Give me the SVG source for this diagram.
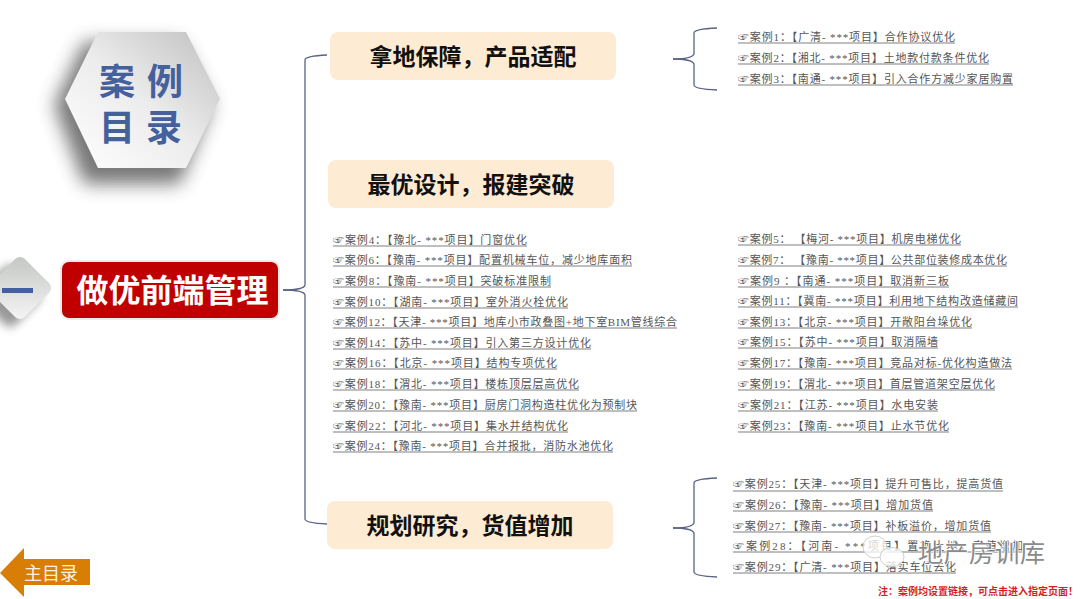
<svg xmlns="http://www.w3.org/2000/svg" width="1080" height="599" viewBox="0 0 1080 599">
<style>
.t{font-family:"Liberation Serif","Noto Sans CJK SC",serif;font-size:11px;fill:#555}
.u{stroke:#808080;stroke-width:1.2}
.c{fill:none;stroke:#5a6584;stroke-width:1.3}
.h{font-family:"Noto Sans CJK SC",sans-serif;font-weight:700;font-size:23px;fill:#111;text-anchor:middle}
.b{fill:#fdebd3}
.s{font-family:"Noto Sans CJK SC",sans-serif;font-weight:700;font-size:36px;fill:#44619d;text-anchor:middle}
</style>
<defs>
<linearGradient id="hx" x1="0.1" y1="0.9" x2="0.9" y2="0.1"><stop offset="0" stop-color="#fbfbfb"/><stop offset="0.5" stop-color="#ececec"/><stop offset="1" stop-color="#c8c8c8"/></linearGradient>
<linearGradient id="dm" x1="0" y1="0" x2="1" y2="1"><stop offset="0" stop-color="#c2c5c2"/><stop offset="1" stop-color="#f6f6f6"/></linearGradient>
<filter id="sh" x="-40%" y="-40%" width="180%" height="180%"><feGaussianBlur stdDeviation="9"/></filter>
<filter id="sh2" x="-40%" y="-40%" width="180%" height="180%"><feGaussianBlur stdDeviation="5"/></filter>
</defs>
<rect width="1080" height="599" fill="#fff"/>
<g id="hexagon">
<polygon points="54,105 84,42 180,42 212,105 180,184 84,184" fill="#444" opacity="0.72" filter="url(#sh)"/>
<polygon points="65,99 98,32 186,32 220,99 186,168 98,168" fill="url(#hx)"/>
<text class="s" x="117" y="95">案</text>
<text class="s" x="165" y="95">例</text>
<text class="s" x="117" y="141">目</text>
<text class="s" x="164" y="141">录</text>
</g>
<g id="diamond">
<rect x="-14" y="272" width="48" height="48" rx="7" fill="#555" opacity="0.6" filter="url(#sh2)" transform="rotate(45 10 296)"/>
<rect x="-4" y="264" width="48" height="48" rx="7" fill="url(#dm)" transform="rotate(45 20 288)"/>
<rect x="2" y="288" width="31" height="5" fill="#44619d"/>
</g>
<g id="root">
<rect x="61" y="261" width="218" height="58" rx="8" fill="#c00000" stroke="#ececec" stroke-width="2"/>
<text x="172.500" y="302" font-family="Noto Sans CJK SC,sans-serif" font-weight="700" font-size="32" fill="#fff" text-anchor="middle">做优前端管理</text>
</g>
<g id="connectors">
<path class="c" d="M283,290 Q304,290 305,285 V60 Q305,56 327,55"/>
<path class="c" d="M283,290 Q304,290 305,295 V519 Q305,523 327,524"/>
<path class="c" d="M673,59 Q692,59 694,54 V33 Q694,29 717,28"/>
<path class="c" d="M673,59 Q692,59 694,64 V85 Q694,89 717,90"/>
<path class="c" d="M673,528 Q692,528 694,523 V483 Q694,479 717,478"/>
<path class="c" d="M673,528 Q692,528 694,533 V572 Q694,576 717,577"/>
</g>
<g id="n1"><rect class="b" x="330" y="32" width="286" height="48" rx="8"/><text class="h" x="473" y="65">拿地保障&#xFF0C;产品适配</text></g>
<g id="n2"><rect class="b" x="328" y="160" width="286" height="48" rx="8"/><text class="h" x="471" y="193">最优设计&#xFF0C;报建突破</text></g>
<g id="n3"><rect class="b" x="327" y="501" width="286" height="48" rx="8"/><text class="h" x="470" y="534">规划研究&#xFF0C;货值增加</text></g>
<g id="cases-top">
<text class="t" x="738" y="41" textLength="217">☞案例1&#xFF1A;【广清- ***项目】合作协议优化</text><line class="u" x1="738" x2="955" y1="43" y2="43"/>
<text class="t" x="738" y="62" textLength="251">☞案例2&#xFF1A;【湘北- ***项目】土地款付款条件优化</text><line class="u" x1="738" x2="989" y1="64" y2="64"/>
<text class="t" x="738" y="83" textLength="275">☞案例3&#xFF1A;【南通- ***项目】引入合作方减少家居购置</text><line class="u" x1="738" x2="1013" y1="85" y2="85"/>
</g>
<g id="cases-left">
<text class="t" x="333" y="244" textLength="194">☞案例4&#xFF1A;【豫北- ***项目】门窗优化</text><line class="u" x1="333" x2="527" y1="246" y2="246"/>
<text class="t" x="333" y="264" textLength="299">☞案例6&#xFF1A;【豫南- ***项目】配置机械车位&#xFF0C;减少地库面积</text><line class="u" x1="333" x2="632" y1="266" y2="266"/>
<text class="t" x="333" y="285" textLength="218">☞案例8&#xFF1A;【豫南- ***项目】突破标准限制</text><line class="u" x1="333" x2="551" y1="287" y2="287"/>
<text class="t" x="333" y="306" textLength="235">☞案例10&#xFF1A;【湖南- ***项目】室外消火栓优化</text><line class="u" x1="333" x2="568" y1="308" y2="308"/>
<text class="t" x="333" y="326" textLength="344">☞案例12&#xFF1A;【天津- ***项目】地库小市政叠图+地下室BIM管线综合</text><line class="u" x1="333" x2="677" y1="328" y2="328"/>
<text class="t" x="333" y="347" textLength="258">☞案例14&#xFF1A;【苏中- ***项目】引入第三方设计优化</text><line class="u" x1="333" x2="591" y1="349" y2="349"/>
<text class="t" x="333" y="367" textLength="224">☞案例16&#xFF1A;【北京- ***项目】结构专项优化</text><line class="u" x1="333" x2="557" y1="369" y2="369"/>
<text class="t" x="333" y="388" textLength="246">☞案例18&#xFF1A;【渭北- ***项目】楼栋顶层层高优化</text><line class="u" x1="333" x2="579" y1="390" y2="390"/>
<text class="t" x="333" y="409" textLength="304">☞案例20&#xFF1A;【豫南- ***项目】厨房门洞构造柱优化为预制块</text><line class="u" x1="333" x2="637" y1="411" y2="411"/>
<text class="t" x="333" y="430" textLength="235">☞案例22&#xFF1A;【河北- ***项目】集水井结构优化</text><line class="u" x1="333" x2="568" y1="432" y2="432"/>
<text class="t" x="333" y="450" textLength="280">☞案例24&#xFF1A;【豫南- ***项目】合并报批&#xFF0C;消防水池优化</text><line class="u" x1="333" x2="613" y1="452" y2="452"/>
</g>
<g id="cases-right">
<text class="t" x="738" y="243" textLength="223">☞案例5&#xFF1A; 【梅河- ***项目】机房电梯优化</text><line class="u" x1="738" x2="961" y1="245" y2="245"/>
<text class="t" x="738" y="264" textLength="269">☞案例7&#xFF1A; 【豫南- ***项目】公共部位装修成本优化</text><line class="u" x1="738" x2="1007" y1="266" y2="266"/>
<text class="t" x="738" y="285" textLength="211">☞案例9 &#xFF1A;【南通- ***项目】取消新三板</text><line class="u" x1="738" x2="949" y1="287" y2="287"/>
<text class="t" x="738" y="305" textLength="280">☞案例11&#xFF1A;【冀南- ***项目】利用地下结构改造储藏间</text><line class="u" x1="738" x2="1018" y1="307" y2="307"/>
<text class="t" x="738" y="326" textLength="234">☞案例13&#xFF1A;【北京- ***项目】开敞阳台垛优化</text><line class="u" x1="738" x2="972" y1="328" y2="328"/>
<text class="t" x="738" y="346" textLength="200">☞案例15&#xFF1A;【苏中- ***项目】取消隔墙</text><line class="u" x1="738" x2="938" y1="348" y2="348"/>
<text class="t" x="738" y="367" textLength="274">☞案例17&#xFF1A;【豫南- ***项目】竞品对标-优化构造做法</text><line class="u" x1="738" x2="1012" y1="369" y2="369"/>
<text class="t" x="738" y="388" textLength="257">☞案例19&#xFF1A;【渭北- ***项目】首层管道架空层优化</text><line class="u" x1="738" x2="995" y1="390" y2="390"/>
<text class="t" x="738" y="409" textLength="200">☞案例21&#xFF1A;【江苏- ***项目】水电安装</text><line class="u" x1="738" x2="938" y1="411" y2="411"/>
<text class="t" x="738" y="430" textLength="211">☞案例23&#xFF1A;【豫南- ***项目】止水节优化</text><line class="u" x1="738" x2="949" y1="432" y2="432"/>
</g>
<g id="cases-bottom">
<text class="t" x="733" y="488" textLength="270">☞案例25&#xFF1A;【天津- ***项目】提升可售比&#xFF0C;提高货值</text><line class="u" x1="733" x2="1003" y1="491" y2="491"/>
<text class="t" x="733" y="509" textLength="200">☞案例26&#xFF1A;【豫南- ***项目】增加货值</text><line class="u" x1="733" x2="933" y1="511" y2="511"/>
<text class="t" x="733" y="530" textLength="258">☞案例27&#xFF1A;【豫南- ***项目】补板溢价&#xFF0C;增加货值</text><line class="u" x1="733" x2="991" y1="532" y2="532"/>
<text class="t" x="733" y="550" textLength="290">☞案例28&#xFF1A;【河南- ***项目】置换土地&#xFF0C;产值增加</text><line class="u" x1="733" x2="1023" y1="552" y2="552"/>
<text class="t" x="733" y="571" textLength="223">☞案例29&#xFF1A;【广清- ***项目】落实车位去化</text><line class="u" x1="733" x2="956" y1="573" y2="573"/>
</g>
<g id="watermark">
<ellipse cx="875" cy="547" rx="12" ry="11" fill="#fff" fill-opacity="0.75" stroke="#c4c4c4" stroke-width="0.8"/>
<ellipse cx="892" cy="557" rx="12" ry="9.500" fill="#fff" fill-opacity="0.8" stroke="#c4c4c4" stroke-width="0.8"/>
<text x="918" y="562" font-family="Noto Sans CJK SC,sans-serif" font-size="25" fill="#8a8a8a" stroke="#fff" stroke-width="1.500" paint-order="stroke" textLength="127">地产房训库</text>
</g>
<text x="878" y="595" font-family="Noto Sans CJK SC,sans-serif" font-weight="700" font-size="10" fill="#d81e1e" textLength="200">注&#xFF1A;案例均设置链接&#xFF0C;可点击进入指定页面&#xFF01;</text>
<g id="back">
<polygon points="0,573 24,548 24,559 90,559 90,585 24,585 24,597" fill="#d97e05"/>
<text x="24" y="580" font-family="Noto Sans CJK SC,sans-serif" font-size="18" fill="#fdf2e0">主目录</text>
</g>
</svg>
